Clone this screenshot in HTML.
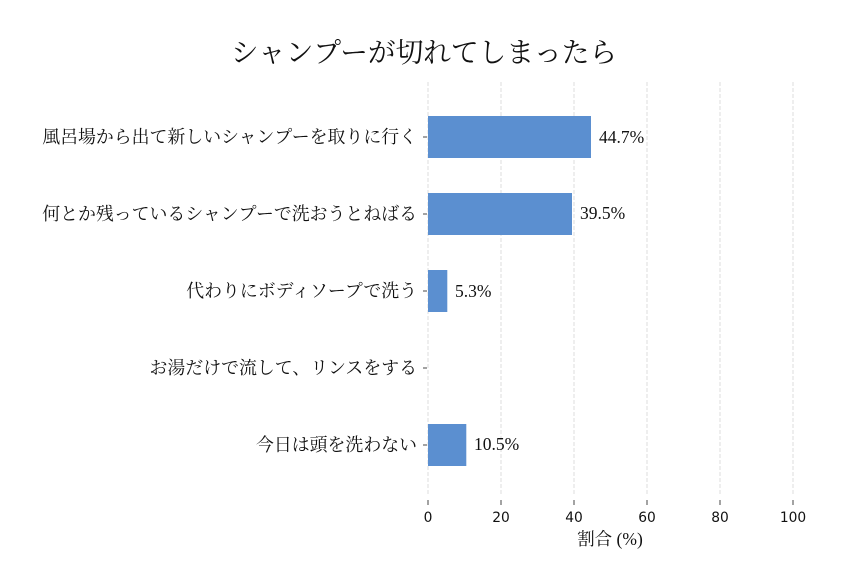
<!DOCTYPE html>
<html><head><meta charset="utf-8"><style>
body{margin:0;background:#fff}
svg{display:block}
.s{font-family:"Liberation Serif","Noto Serif CJK JP",serif}
.t{font-family:"DejaVu Sans","Liberation Sans",sans-serif}
</style></head><body>
<svg width="846" height="588" viewBox="0 0 846 588" xmlns="http://www.w3.org/2000/svg">
<rect width="846" height="588" fill="#fff"/>
<text class="s" x="424" y="62" font-size="27.7" text-anchor="middle" fill="#111">シャンプーが切れてしまったら</text>
<g stroke="#d0d0d0" stroke-width="0.7" stroke-dasharray="4,2">
<line x1="428" y1="82" x2="428" y2="495"/>
<line x1="501" y1="82" x2="501" y2="495"/>
<line x1="574" y1="82" x2="574" y2="495"/>
<line x1="647" y1="82" x2="647" y2="495"/>
<line x1="720" y1="82" x2="720" y2="495"/>
<line x1="793" y1="82" x2="793" y2="495"/>
</g>
<g fill="#5b8fd0">
<rect x="428" y="116" width="163" height="42"/>
<rect x="428" y="193" width="144" height="42"/>
<rect x="428" y="270" width="19.3" height="42"/>
<rect x="428" y="424" width="38.3" height="42"/>
</g>
<g stroke="#333" stroke-width="0.9">
<line x1="423" y1="137" x2="427" y2="137"/><line x1="423" y1="214" x2="427" y2="214"/><line x1="423" y1="291" x2="427" y2="291"/><line x1="423" y1="368" x2="427" y2="368"/><line x1="423" y1="445" x2="427" y2="445"/>
<line x1="428" y1="500" x2="428" y2="505"/><line x1="501" y1="500" x2="501" y2="505"/><line x1="574" y1="500" x2="574" y2="505"/><line x1="647" y1="500" x2="647" y2="505"/><line x1="720" y1="500" x2="720" y2="505"/><line x1="793" y1="500" x2="793" y2="505"/>
</g>
<g class="s" font-size="17.9" fill="#111" text-anchor="end">
<text x="417" y="143">風呂場から出て新しいシャンプーを取りに行く</text>
<text x="417" y="220">何とか残っているシャンプーで洗おうとねばる</text>
<text x="417" y="297">代わりにボディソープで洗う</text>
<text x="417" y="374">お湯だけで流して、リンスをする</text>
<text x="417" y="451">今日は頭を洗わない</text>
</g>
<g class="s" font-size="17.5" fill="#111">
<text x="599" y="143">44.7%</text>
<text x="580" y="219">39.5%</text>
<text x="455" y="297">5.3%</text>
<text x="474" y="450">10.5%</text>
</g>
<g class="t" font-size="13.8" fill="#111" text-anchor="middle">
<text x="428" y="522">0</text><text x="501" y="522">20</text><text x="574" y="522">40</text><text x="647" y="522">60</text><text x="720" y="522">80</text><text x="793" y="522">100</text>
</g>
<text class="s" x="610" y="545" font-size="17.5" fill="#111" text-anchor="middle">割合 (%)</text>
</svg>
</body></html>
